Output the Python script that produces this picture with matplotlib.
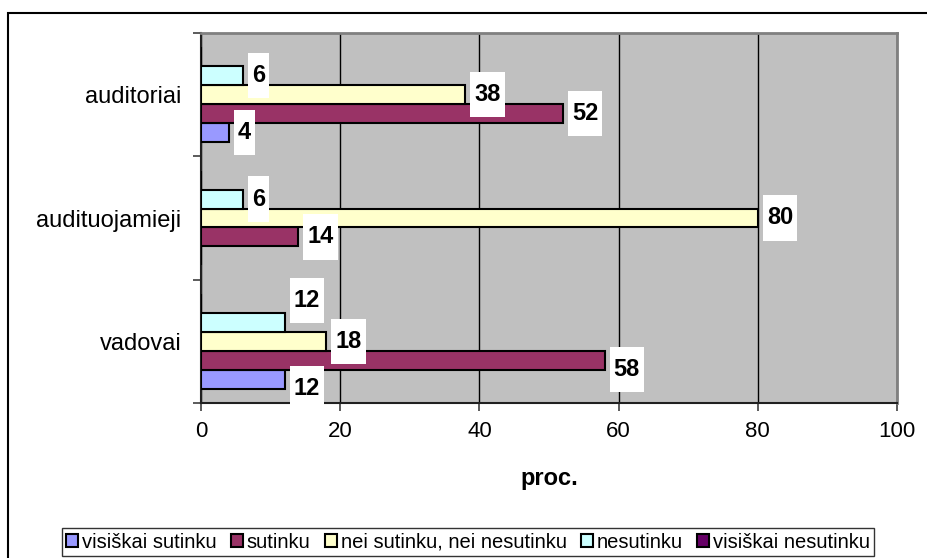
import numpy as np
import matplotlib.pyplot as plt
from matplotlib.path import Path
from matplotlib.patches import Rectangle
from matplotlib.ticker import MultipleLocator, FixedLocator

plt.rcParams['font.family'] = ['Liberation Sans', 'DejaVu Sans']

# Duomenys (proc.)
categories = ["vadovai", "audituojamieji", "auditoriai"]
series = ["visiškai sutinku", "sutinku", "nei sutinku, nei nesutinku",
          "nesutinku", "visiškai nesutinku"]
visiskai_sutinku = [12, 0, 4]
sutinku = [58, 14, 52]
nei_nei = [18, 80, 38]
nesutinku = [12, 6, 6]
visiskai_nesutinku = [0, 0, 0]
values = [visiskai_sutinku, sutinku, nei_nei, nesutinku, visiskai_nesutinku]
colors = ["#9999FF", "#993366", "#FFFFCC", "#CCFFFF", "#660066"]

# etikečių pastumimas vertikaliai (taškais), kaip originale ranka perkeltos
label_dy = [[-6.5, 0, 0], [-6.5, 0, 0], [0, 0, 0], [16, 0, 0], [0, 0, 0]]


def label_box(x0, y0, width, height, mutation_size):
    # baltas stačiakampis: mažas tarpas šonuose, didesnis viršuje/apačioje
    padx = 0.17 * mutation_size
    pady = 0.47 * mutation_size
    x0, x1 = x0 - padx, x0 + width + padx
    y0, y1 = y0 - pady, y0 + height + pady
    return Path([(x0, y0), (x1, y0), (x1, y1), (x0, y1), (x0, y0)], closed=True)


fig = plt.figure(figsize=(9.27, 5.58), dpi=100)
ax = fig.add_axes([201 / 927, 1 - 403 / 558, 696 / 927, 370 / 558])
ax.set_facecolor("#C0C0C0")

n = len(series)
bar_h = 0.154
y = np.arange(len(categories))
offsets = (np.arange(n) - (n - 1) / 2) * bar_h

bars = []
for i, (name, vals, col) in enumerate(zip(series, values, colors)):
    b = ax.barh(y + offsets[i], vals, height=bar_h, color=col,
                edgecolor="black", linewidth=1.5, label=name, zorder=3)
    bars.append(b)

# reikšmių etiketės
for b, vals, dys in zip(bars, values, label_dy):
    for rect, v, dy in zip(b, vals, dys):
        if v == 0:
            continue
        ax.annotate(str(v), (rect.get_width(), rect.get_y() + rect.get_height() / 2),
                    xytext=(6.5, dy), textcoords="offset points",
                    ha="left", va="center", fontsize=17, fontweight="bold",
                    bbox=dict(boxstyle=label_box, fc="white", ec="none"),
                    zorder=5, annotation_clip=False)

ax.set_xlim(0, 100)
ax.set_ylim(-0.5, len(categories) - 0.5)
ax.xaxis.set_major_locator(MultipleLocator(20))
ax.grid(axis="x", color="black", linewidth=1, zorder=1)

ax.set_yticks(y)
ax.set_yticklabels(categories)
ax.yaxis.set_minor_locator(FixedLocator(np.arange(-0.5, len(categories), 1)))
ax.tick_params(axis="y", which="major", length=0, pad=14, labelsize=17)
ax.tick_params(axis="y", which="minor", length=6, width=1.2, color="#404040")
ax.tick_params(axis="x", length=6, width=1.2, color="#404040", pad=7, labelsize=16)

ax.set_xlabel("proc.", fontsize=17, fontweight="bold", labelpad=18)

for side in ["left", "bottom"]:
    ax.spines[side].set_color("#202020")
    ax.spines[side].set_linewidth(1.5)
for side in ["top", "right"]:
    ax.spines[side].set_color("#808080")
    ax.spines[side].set_linewidth(2)

leg = fig.legend(loc="center", bbox_to_anchor=(0.505, 1 - 542 / 558), ncol=5,
                 fontsize=14.5, frameon=True, fancybox=False, edgecolor="black",
                 handlelength=0.6, handleheight=0.6, handletextpad=0.2,
                 columnspacing=0.7, borderpad=0.2, borderaxespad=0)
leg.get_frame().set_linewidth(1)

# išorinis rėmelis
fig.patches.append(Rectangle((8 / 927, -0.1), 1.2, (558 - 13) / 558 + 0.1,
                             transform=fig.transFigure, fill=False,
                             edgecolor="black", linewidth=1.5))

fig.savefig("out.png", dpi=100)
